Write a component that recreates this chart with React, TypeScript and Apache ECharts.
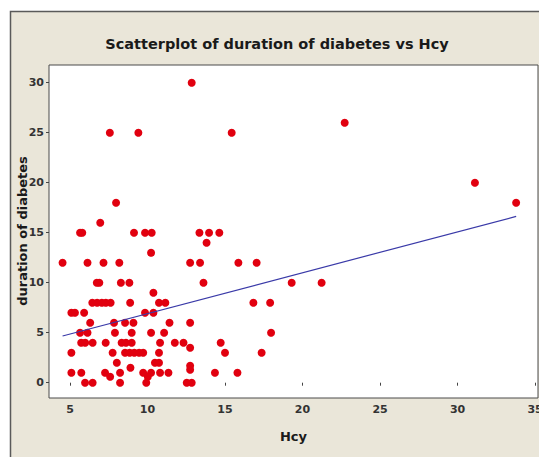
import React, { useEffect, useRef } from "react";
import * as echarts from "echarts";

// Hcy values (x) and duration of diabetes (y)
const hcy = [
  12.85,
  22.72,
  7.57, 9.41, 15.43,
  31.12,
  7.97, 33.78,
  6.95,
  5.65, 5.79, 9.13, 9.84, 10.27, 13.35, 13.97, 14.63,
  13.81,
  10.23,
  4.52, 6.13, 7.16, 8.18, 12.75, 13.39, 15.86, 17.04,
  6.73, 6.89, 8.28, 8.83, 13.61, 19.3, 21.23,
  10.38,
  6.44, 6.75, 7.05, 7.31, 7.62, 8.88, 10.74, 11.15, 16.83, 17.91,
  5.09, 5.32, 5.91, 9.84, 10.38,
  6.3, 7.84, 8.55, 9.09, 11.42, 12.75,
  5.65, 6.13, 7.9, 8.98, 10.23, 11.07, 17.97,
  5.72, 5.98, 6.46, 7.3, 8.33, 8.61, 8.98, 10.81, 11.76, 12.32, 14.72,
  12.75,
  5.09, 7.75, 8.55, 8.85, 9.15, 9.46, 9.72, 10.74, 15.0, 17.36,
  8.02, 10.48, 10.74,
  12.75,
  8.9, 12.75,
  5.09, 5.73, 7.26, 8.23, 9.72, 10.23, 10.81, 11.35, 14.35, 15.8,
  7.59, 10.02,
  5.97, 6.46, 8.23, 9.92, 12.53, 12.85,
];

const duration = [
  30,
  26,
  25, 25, 25,
  20,
  18, 18,
  16,
  15, 15, 15, 15, 15, 15, 15, 15,
  14,
  13,
  12, 12, 12, 12, 12, 12, 12, 12,
  10, 10, 10, 10, 10, 10, 10,
  9,
  8, 8, 8, 8, 8, 8, 8, 8, 8, 8,
  7, 7, 7, 7, 7,
  6, 6, 6, 6, 6, 6,
  5, 5, 5, 5, 5, 5, 5,
  4, 4, 4, 4, 4, 4, 4, 4, 4, 4, 4,
  3.5,
  3, 3, 3, 3, 3, 3, 3, 3, 3, 3,
  2, 2, 2,
  1.7,
  1.5, 1.3,
  1, 1, 1, 1, 1, 1, 1, 1, 1, 1,
  0.6, 0.6,
  0, 0, 0, 0, 0, 0,
];

const xTicks = [5, 10, 15, 20, 25, 30, 35];
const yTicks = [0, 5, 10, 15, 20, 25, 30];

// fitted regression line
const fitIntercept = 2.82;
const fitSlope = 0.4088;

const titleText = "Scatterplot of duration of diabetes vs Hcy";
const xName = "Hcy";
const yName = "duration of diabetes";

export default function App() {
  const ref = useRef<HTMLDivElement>(null);

  useEffect(() => {
    if (!ref.current) return;
    const chart = echarts.init(ref.current, null, { renderer: "svg" });
    const pts = hcy.map((x, i) => [x, duration[i]]);
    const xMin = Math.min(...hcy);
    const xMax = Math.max(...hcy);
    const fitLine = [
      [xMin, fitIntercept + fitSlope * xMin],
      [xMax, fitIntercept + fitSlope * xMax],
    ];
    const font = "'DejaVu Sans', Verdana, sans-serif";

    chart.setOption({
      animation: false,
      backgroundColor: "#eae6d9",
      textStyle: { fontFamily: font },
      graphic: [
        { type: "rect", shape: { x: 0, y: 0, width: 600, height: 11 }, style: { fill: "#ffffff" }, silent: true },
        { type: "rect", shape: { x: 0, y: 0, width: 10, height: 500 }, style: { fill: "#ffffff" }, silent: true },
        {
          type: "polyline",
          shape: { points: [[10.5, 470], [10.5, 11.5], [600, 11.5]] },
          style: { stroke: "#5a5a5a", lineWidth: 1.5, fill: "none" },
          silent: true,
        },
        {
          type: "text",
          x: 277,
          y: 44,
          style: {
            text: titleText,
            fontFamily: font,
            fontSize: 14.5,
            fontWeight: "bold",
            fill: "#1a1a1a",
            align: "center",
            verticalAlign: "middle",
          },
        },
        {
          type: "text",
          x: 22,
          y: 231,
          rotation: Math.PI / 2,
          style: {
            text: yName,
            fontFamily: font,
            fontSize: 13,
            fontWeight: "bold",
            fill: "#1a1a1a",
            align: "center",
            verticalAlign: "middle",
          },
        },
      ],
      grid: {
        left: 49,
        top: 65,
        width: 489,
        height: 333,
        show: true,
        backgroundColor: "#ffffff",
        borderColor: "#4a4a4a",
        borderWidth: 1,
      },
      xAxis: {
        type: "value",
        min: 3.645,
        max: 35.19,
        name: xName,
        nameLocation: "middle",
        nameGap: 32,
        nameTextStyle: { fontSize: 13, fontWeight: "bold", color: "#1a1a1a", fontFamily: font },
        axisLine: { show: false },
        axisTick: { show: true, inside: false, length: 3, lineStyle: { color: "#444" }, customValues: xTicks },
        axisLabel: { customValues: xTicks, margin: 6, fontSize: 11, fontWeight: "bold", color: "#333", fontFamily: font },
        splitLine: { show: false },
      },
      yAxis: {
        type: "value",
        min: -1.53,
        max: 31.77,
        axisLine: { show: false },
        axisTick: { show: true, inside: false, length: 3, lineStyle: { color: "#444" }, customValues: yTicks },
        axisLabel: { customValues: yTicks, margin: 5, fontSize: 11, fontWeight: "bold", color: "#333", fontFamily: font },
        splitLine: { show: false },
      },
      series: [
        {
          type: "scatter",
          data: pts,
          symbol: "circle",
          symbolSize: 8,
          itemStyle: { color: "#e1000f", opacity: 1 },
          z: 2,
        },
        {
          type: "line",
          data: fitLine,
          symbol: "none",
          lineStyle: { color: "#3a3aa8", width: 1.2 },
          z: 3,
        },
      ],
    });
    return () => chart.dispose();
  }, []);

  return (
    <div
      style={{
        position: "fixed",
        left: 0,
        top: 0,
        width: 539,
        height: 457,
        overflow: "hidden",
        background: "#ffffff",
      }}
    >
      <div ref={ref} style={{ width: 560, height: 457 }} />
    </div>
  );
}
